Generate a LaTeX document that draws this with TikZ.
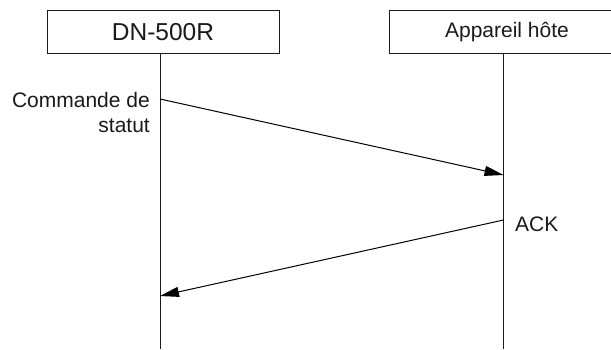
\documentclass[tikz,border=0pt]{standalone}
\usepackage{fontspec}
\setmainfont{Liberation Sans}
\usetikzlibrary{arrows.meta}
\definecolor{ink}{HTML}{1A1A1A}
\begin{document}
\begin{tikzpicture}[x=1pt,y=-1pt,
  actor/.style={draw=ink,line width=1pt,minimum height=43pt,inner sep=0pt,anchor=north west},
  life/.style={draw=ink,line width=1pt},
  msg/.style={draw=black,line width=1pt,-{Triangle[length=19pt,width=10pt]}},
  lbl/.style={text=ink,font=\fontsize{21}{25}\selectfont,inner sep=0pt}]
\useasboundingbox (0,0) rectangle (611,349);
\begin{scope}
\clip (0,0) rectangle (611,349);
\node[actor,minimum width=232pt,font=\fontsize{24.5}{28}\selectfont,text=ink] (dn) at (46.5,10) {DN-500R};
\node[actor,minimum width=236pt,font=\fontsize{21}{25}\selectfont,text=ink] (host) at (388.5,10) {Appareil hôte};
\end{scope}
\coordinate (dnend) at (160,349);
\coordinate (hostend) at (503.5,349);
\draw[life] (dn.south -| dnend) -- (dnend);
\draw[life] (host.south -| hostend) -- (hostend);
\coordinate (m1s) at (160,99);
\coordinate (m1e) at (503.5,175);
\coordinate (m2s) at (503.5,220);
\coordinate (m2e) at (160,296);
\draw[msg] (m1s) -- (m1e);
\draw[msg] (m2s) -- (m2e);
\node[lbl,anchor=base east] (cmd1) at (150,107) {Commande de};
\node[lbl,anchor=base east] (cmd2) at (150,132) {statut};
\node[lbl,anchor=base west] (ack) at (515,231) {ACK};
\end{tikzpicture}
\end{document}
